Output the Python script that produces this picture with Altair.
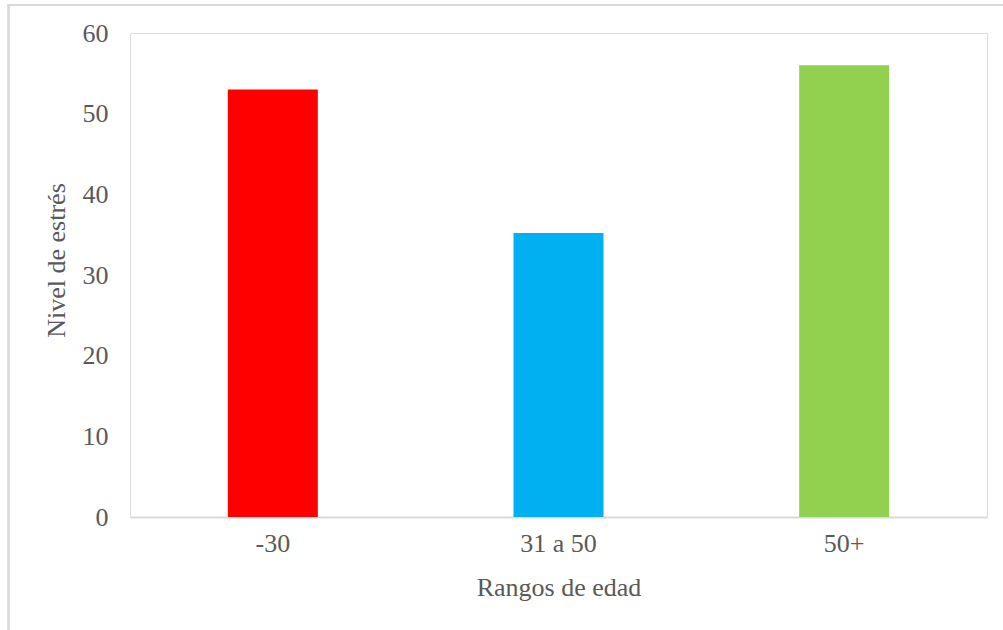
import altair as alt
import pandas as pd

# Stress level by age bracket
rangos = ["-30", "31 a 50", "50+"]
nivel = [53, 35.2, 56]
colores = ["#ff0000", "#00b0f0", "#92d050"]

df = pd.DataFrame({"rango": rangos, "nivel": nivel, "color": colores})

FONT = "Liberation Serif"
GRAY = "#595959"

bars = alt.Chart(df).mark_bar().encode(
    x=alt.X(
        "rango:N",
        sort=rangos,
        title="Rangos de edad",
        scale=alt.Scale(paddingInner=0.685, paddingOuter=0.3425),
        axis=alt.Axis(
            labelAngle=0, labelFont=FONT, labelFontSize=26, labelColor=GRAY,
            labelPadding=13, ticks=False, domainColor="#d9d9d9", domainWidth=2,
            titleFont=FONT, titleFontSize=26, titleColor=GRAY, titleFontWeight="normal",
            titlePadding=18,
        ),
    ),
    y=alt.Y(
        "nivel:Q",
        title="Nivel de estrés",
        scale=alt.Scale(domain=[0, 60]),
        axis=alt.Axis(
            values=[0, 10, 20, 30, 40, 50, 60], labelFont=FONT, labelFontSize=26,
            labelColor=GRAY, labelPadding=22, ticks=False, domain=False, grid=False,
            titleFont=FONT, titleFontSize=26, titleColor=GRAY, titleFontWeight="normal",
            titlePadding=13, titleY=227,
        ),
    ),
    color=alt.Color("color:N", scale=None),
)

# Outer frame lines (left and top edges)
frame_left = alt.Chart(df).mark_rule(color="#d9d9d9", strokeWidth=2).encode(
    x=alt.value(-121.5), y=alt.value(-29), y2=alt.value(600)
)
frame_top = alt.Chart(df).mark_rule(color="#d9d9d9", strokeWidth=2).encode(
    x=alt.value(-121.5), x2=alt.value(880), y=alt.value(-28)
)

chart = alt.layer(frame_left, frame_top, bars).properties(
    width=857,
    height=484,
    autosize=alt.AutoSizeParams(type="none"),
    padding={"left": 130, "top": 33, "right": 16, "bottom": 113},
).configure_view(stroke=None).configure(background="white")

chart.save("out.html", embed_options={"renderer": "svg", "actions": False})
